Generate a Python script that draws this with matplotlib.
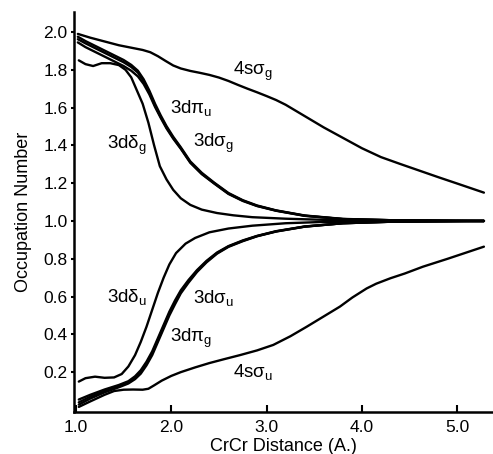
import matplotlib
matplotlib.use("Agg")
import matplotlib.pyplot as plt

plt.rcParams['font.family'] = ['Liberation Sans', 'DejaVu Sans']
plt.rcParams['mathtext.fontset'] = 'custom'
plt.rcParams['mathtext.rm'] = 'Liberation Sans'
plt.rcParams['mathtext.it'] = 'Liberation Sans'

# ---- data ----
x_4sg = [1.02, 1.15, 1.3, 1.45, 1.6, 1.7, 1.78, 1.86, 1.94, 2.02, 2.1, 2.2, 2.3, 2.4, 2.5, 2.6,
         2.7, 2.8, 2.9, 3.0, 3.1, 3.2, 3.3, 3.4, 3.6, 3.8, 4.0, 4.2, 4.4, 4.6, 4.8, 5.0, 5.28]
y_4sg = [1.99, 1.97, 1.95, 1.93, 1.915, 1.905, 1.893, 1.872, 1.847, 1.823, 1.807, 1.794, 1.784,
         1.773, 1.759, 1.741, 1.72, 1.70, 1.681, 1.661, 1.64, 1.615, 1.585, 1.555, 1.495, 1.44,
         1.385, 1.338, 1.302, 1.267, 1.232, 1.198, 1.15]

x_4su = [1.03, 1.15, 1.3, 1.4, 1.5, 1.6, 1.7, 1.76, 1.82, 1.9, 2.0, 2.1, 2.25, 2.4, 2.55, 2.72,
         2.9, 3.07, 3.25, 3.42, 3.6, 3.77, 3.9, 4.05, 4.15, 4.3, 4.45, 4.64, 4.9, 5.28]
y_4su = [0.016, 0.045, 0.08, 0.10, 0.107, 0.108, 0.107, 0.112, 0.13, 0.155, 0.18, 0.20, 0.225, 0.248,
         0.268, 0.29, 0.315, 0.344, 0.39, 0.44, 0.495, 0.547, 0.595, 0.643, 0.668, 0.697, 0.722,
         0.758, 0.80, 0.864]

x_ub = [1.02, 1.1, 1.2, 1.3, 1.4, 1.5, 1.58, 1.65, 1.71, 1.77, 1.83, 1.89, 1.95, 2.02, 2.1, 2.2,
        2.32, 2.45, 2.6, 2.75, 2.9, 3.1, 3.4, 3.8, 4.3, 5.28]
y_3dpu_a = [1.975, 1.952, 1.927, 1.902, 1.877, 1.852, 1.826, 1.795, 1.75, 1.69, 1.62, 1.558, 1.502,
            1.446, 1.39, 1.315, 1.255, 1.203, 1.148, 1.11, 1.082, 1.056, 1.029, 1.011, 1.004, 1.0]
y_3dpu_b = [1.962, 1.94, 1.915, 1.89, 1.865, 1.84, 1.815, 1.785, 1.74, 1.68, 1.61, 1.55, 1.495,
            1.44, 1.385, 1.31, 1.25, 1.20, 1.145, 1.108, 1.08, 1.055, 1.028, 1.01, 1.004, 1.0]
y_3dsg = [1.945, 1.92, 1.895, 1.87, 1.845, 1.82, 1.795, 1.765, 1.725, 1.67, 1.603, 1.545, 1.49,
          1.436, 1.382, 1.308, 1.248, 1.198, 1.143, 1.106, 1.079, 1.054, 1.027, 1.01, 1.004, 1.0]

x_3ddg = [1.03, 1.1, 1.18, 1.27, 1.36, 1.45, 1.52, 1.58, 1.64, 1.7, 1.76, 1.82, 1.88, 1.95, 2.02,
          2.1, 2.2, 2.32, 2.48, 2.65, 2.85, 3.2, 3.6, 4.2, 5.28]
y_3ddg = [1.85, 1.83, 1.82, 1.835, 1.835, 1.825, 1.80, 1.76, 1.69, 1.62, 1.52, 1.40, 1.29, 1.22,
          1.165, 1.12, 1.085, 1.06, 1.042, 1.03, 1.02, 1.012, 1.006, 1.003, 1.0]

x_3ddu = [1.03, 1.1, 1.2, 1.3, 1.4, 1.48, 1.55, 1.62, 1.68, 1.74, 1.8, 1.86, 1.92, 1.98, 2.05,
          2.15, 2.25, 2.4, 2.6, 2.85, 3.2, 3.6, 4.2, 5.28]
y_3ddu = [0.15, 0.168, 0.176, 0.17, 0.172, 0.19, 0.23, 0.29, 0.36, 0.44, 0.53, 0.62, 0.70, 0.77,
          0.83, 0.88, 0.91, 0.94, 0.96, 0.975, 0.988, 0.995, 0.998, 1.0]

x_lb = [1.03, 1.15, 1.3, 1.45, 1.55, 1.62, 1.68, 1.74, 1.8, 1.86, 1.92, 1.98, 2.04, 2.1, 2.18,
        2.27, 2.37, 2.48, 2.6, 2.75, 2.9, 3.1, 3.4, 3.8, 4.3, 5.28]
y_3dsu = [0.055, 0.08, 0.108, 0.132, 0.152, 0.178, 0.21, 0.255, 0.31, 0.38, 0.45, 0.52, 0.58,
          0.633, 0.687, 0.74, 0.789, 0.833, 0.867, 0.897, 0.921, 0.946, 0.971, 0.988, 0.996, 1.0]
y_3dpg_a = [0.04, 0.07, 0.10, 0.125, 0.145, 0.17, 0.20, 0.245, 0.30, 0.37, 0.44, 0.51, 0.57,
            0.625, 0.68, 0.735, 0.785, 0.83, 0.865, 0.895, 0.92, 0.945, 0.97, 0.988, 0.996, 1.0]
y_3dpg_b = [0.028, 0.06, 0.093, 0.12, 0.14, 0.163, 0.192, 0.236, 0.29, 0.36, 0.43, 0.50, 0.56,
            0.617, 0.673, 0.73, 0.781, 0.827, 0.863, 0.893, 0.919, 0.944, 0.97, 0.988, 0.996, 1.0]

xticks = [1.0, 2.0, 3.0, 4.0, 5.0]
xtick_labels = ['1.0', '2.0', '3.0', '4.0', '5.0']
yticks = [0.2, 0.4, 0.6, 0.8, 1.0, 1.2, 1.4, 1.6, 1.8, 2.0]
ytick_labels = ['0.2', '0.4', '0.6', '0.8', '1.0', '1.2', '1.4', '1.6', '1.8', '2.0']

# ---- figure ----
fig = plt.figure(figsize=(4.93, 4.54), dpi=100)
ax = fig.add_axes([0.150, 0.0925, 0.848, 0.8811])

lw = 1.7
series = [
    (x_4sg, y_4sg), (x_4su, y_4su),
    (x_ub, y_3dpu_a), (x_ub, y_3dpu_b), (x_ub, y_3dsg),
    (x_3ddg, y_3ddg), (x_3ddu, y_3ddu),
    (x_lb, y_3dsu), (x_lb, y_3dpg_a), (x_lb, y_3dpg_b),
]
for xs, ys in series:
    ax.plot(xs, ys, color='black', lw=lw, solid_capstyle='round', solid_joinstyle='round')

ax.set_xlim(0.979, 5.365)
ax.set_ylim(-0.011, 2.106)

ax.spines['top'].set_visible(False)
ax.spines['right'].set_visible(False)
ax.spines['left'].set_linewidth(1.8)
ax.spines['bottom'].set_linewidth(1.8)

ax.set_xticks(xticks)
ax.set_xticklabels(xtick_labels)
ax.set_yticks(yticks)
ax.set_yticklabels(ytick_labels)
ax.tick_params(axis='x', direction='in', length=5, width=1.5, labelsize=12.5, pad=6)
ax.tick_params(axis='y', direction='out', length=2.5, width=1.5, labelsize=12.5, pad=2)

ax.set_xlabel('CrCr Distance (A.)', fontsize=13, labelpad=2)
ax.set_ylabel('Occupation Number', fontsize=13, labelpad=8)

fs = 13.5
ax.text(2.65, 1.79, r'4s$\mathrm{\sigma}_\mathrm{g}$', fontsize=fs, va='center', ha='left')
ax.text(1.99, 1.60, r'3d$\mathrm{\pi}_\mathrm{u}$', fontsize=fs, va='center', ha='left')
ax.text(2.23, 1.41, r'3d$\mathrm{\sigma}_\mathrm{g}$', fontsize=fs, va='center', ha='left')
ax.text(1.325, 1.40, r'3d$\mathrm{\delta}_\mathrm{g}$', fontsize=fs, va='center', ha='left')
ax.text(1.325, 0.60, r'3d$\mathrm{\delta}_\mathrm{u}$', fontsize=fs, va='center', ha='left')
ax.text(2.23, 0.59, r'3d$\mathrm{\sigma}_\mathrm{u}$', fontsize=fs, va='center', ha='left')
ax.text(1.99, 0.38, r'3d$\mathrm{\pi}_\mathrm{g}$', fontsize=fs, va='center', ha='left')
ax.text(2.65, 0.20, r'4s$\mathrm{\sigma}_\mathrm{u}$', fontsize=fs, va='center', ha='left')

fig.savefig('out.png', dpi=100)
